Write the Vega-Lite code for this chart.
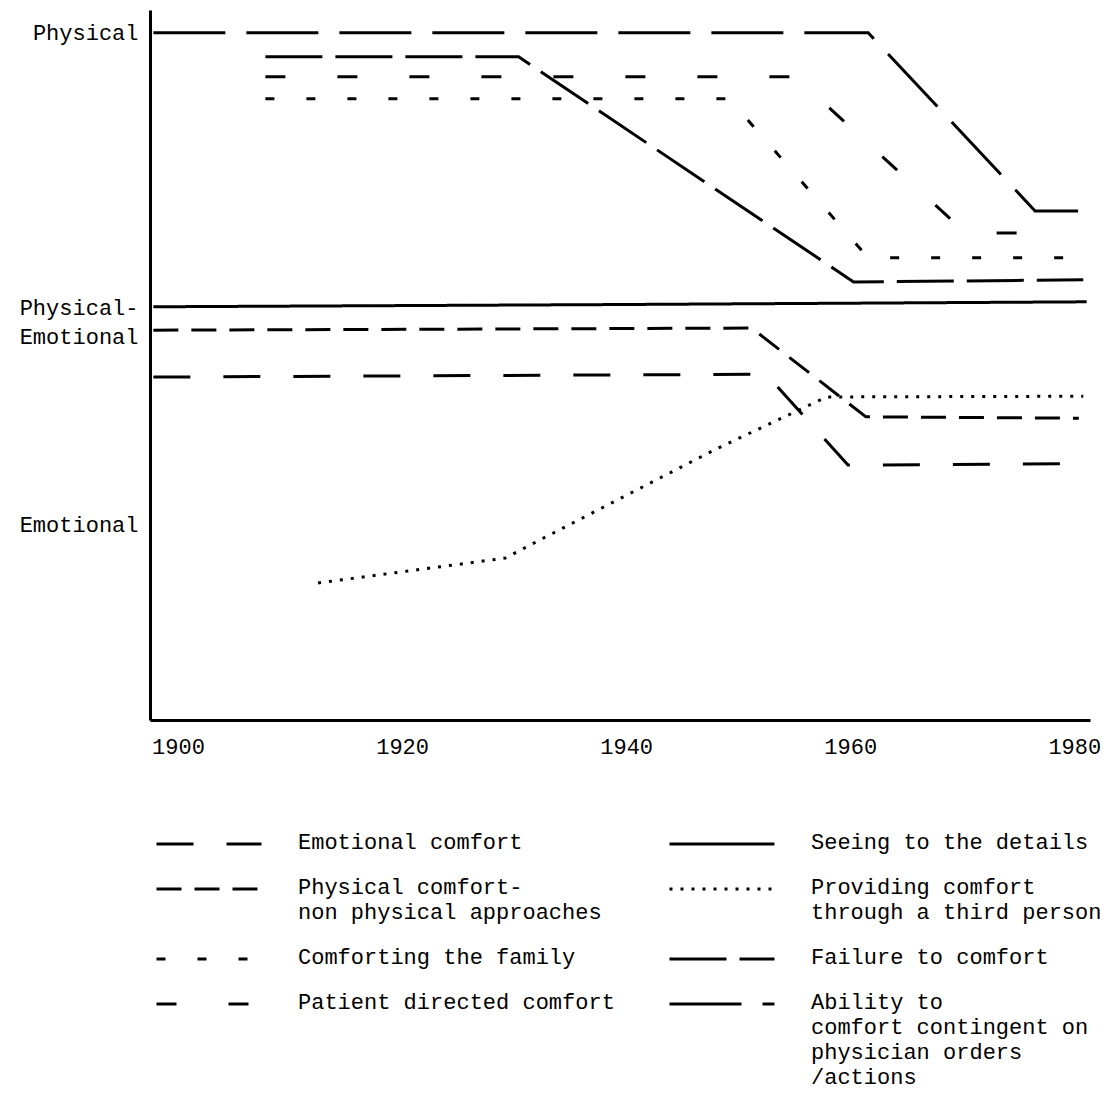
{
  "$schema": "https://vega.github.io/schema/vega-lite/v6.json",
  "width": 940,
  "height": 710,
  "autosize": {"type": "none"},
  "padding": {"left": 150, "top": 10, "right": 13, "bottom": 379},
  "background": "white",
  "config": {
    "view": {"stroke": null},
    "axis": {
      "domainColor": "black",
      "domainWidth": 3,
      "ticks": false,
      "grid": false,
      "labelFont": "Liberation Mono",
      "labelFontSize": 22,
      "labelColor": "black",
      "title": null,
      "labelFlush": false,
      "labelOverlap": false
    },
    "legend": {
      "labelFont": "Liberation Mono",
      "labelFontSize": 22,
      "labelColor": "black"
    }
  },
  "data": {
    "values": [
      {"series": "Ability to comfort contingent on physician orders /actions", "year": 1897.8, "level": 96.8},
      {"series": "Ability to comfort contingent on physician orders /actions", "year": 1961.6, "level": 96.8},
      {"series": "Ability to comfort contingent on physician orders /actions", "year": 1976.5, "level": 71.7},
      {"series": "Ability to comfort contingent on physician orders /actions", "year": 1980.8, "level": 71.7},
      {"series": "Failure to comfort", "year": 1907.8, "level": 93.4},
      {"series": "Failure to comfort", "year": 1930.4, "level": 93.4},
      {"series": "Failure to comfort", "year": 1960.3, "level": 61.7},
      {"series": "Failure to comfort", "year": 1980.8, "level": 62.0},
      {"series": "Patient directed comfort", "year": 1907.8, "level": 90.6},
      {"series": "Patient directed comfort", "year": 1955.1, "level": 90.6},
      {"series": "Patient directed comfort", "year": 1970.3, "level": 68.6},
      {"series": "Patient directed comfort", "year": 1978.6, "level": 68.6},
      {"series": "Comforting the family", "year": 1907.8, "level": 87.5},
      {"series": "Comforting the family", "year": 1949.2, "level": 87.5},
      {"series": "Comforting the family", "year": 1961.6, "level": 65.1},
      {"series": "Comforting the family", "year": 1980.8, "level": 65.1},
      {"series": "Seeing to the details", "year": 1897.8, "level": 58.2},
      {"series": "Seeing to the details", "year": 1937.5, "level": 58.5},
      {"series": "Seeing to the details", "year": 1981.1, "level": 58.9},
      {"series": "Physical comfort-non physical approaches", "year": 1897.8, "level": 54.9},
      {"series": "Physical comfort-non physical approaches", "year": 1951.2, "level": 55.2},
      {"series": "Physical comfort-non physical approaches", "year": 1961.4, "level": 42.7},
      {"series": "Physical comfort-non physical approaches", "year": 1980.4, "level": 42.5},
      {"series": "Emotional comfort", "year": 1897.8, "level": 48.3},
      {"series": "Emotional comfort", "year": 1952.5, "level": 48.7},
      {"series": "Emotional comfort", "year": 1959.8, "level": 35.9},
      {"series": "Emotional comfort", "year": 1980.8, "level": 36.1},
      {"series": "Providing comfort through a third person", "year": 1912.5, "level": 19.3},
      {"series": "Providing comfort through a third person", "year": 1929.2, "level": 22.8},
      {"series": "Providing comfort through a third person", "year": 1932.1, "level": 25.2},
      {"series": "Providing comfort through a third person", "year": 1948.2, "level": 38.3},
      {"series": "Providing comfort through a third person", "year": 1957.9, "level": 45.5},
      {"series": "Providing comfort through a third person", "year": 1980.8, "level": 45.6}
    ]
  },
  "mark": {"type": "line", "stroke": "black", "strokeWidth": 3, "clip": false},
  "encoding": {
    "x": {
      "field": "year",
      "type": "quantitative",
      "scale": {"domain": [1897.5, 1981.4], "nice": false, "zero": false},
      "axis": {"values": [1900, 1920, 1940, 1960, 1980], "format": "d", "labelPadding": 16}
    },
    "y": {
      "field": "level",
      "type": "quantitative",
      "scale": {"domain": [0, 100], "nice": false, "zero": false},
      "axis": {
        "values": [27.6, 58.1, 96.8],
        "labelPadding": 12,
        "labelLineHeight": 29,
        "labelExpr": "datum.value > 90 ? 'Physical' : datum.value > 50 ? ['Physical-', 'Emotional'] : 'Emotional'"
      }
    },
    "strokeDash": {
      "field": "series",
      "type": "nominal",
      "scale": {
        "domain": [
          "Emotional comfort",
          "Physical comfort-non physical approaches",
          "Comforting the family",
          "Patient directed comfort",
          "Seeing to the details",
          "Providing comfort through a third person",
          "Failure to comfort",
          "Ability to comfort contingent on physician orders /actions"
        ],
        "range": [[37, 33], [25, 13], [9, 32], [20, 52], [1, 0], [3, 8], [57, 13], [72, 21]]
      },
      "legend": {
        "title": null,
        "orient": "none",
        "legendX": 5,
        "legendY": 822,
        "columns": 2,
        "symbolType": "stroke",
        "symbolSize": 11025,
        "symbolStrokeWidth": 3,
        "symbolStrokeColor": "black",
        "labelOffset": 35,
        "columnPadding": 48,
        "rowPadding": 23,
        "labelLimit": 1000,
        "labelBaseline": "top",
        "encode": {
          "labels": {"update": {"y": {"value": 0}, "lineHeight": {"value": 25}}},
          "symbols": {"update": {"y": {"value": 12}}}
        },
        "labelExpr": "datum.label == 'Physical comfort-non physical approaches' ? ['Physical comfort-', 'non physical approaches'] : datum.label == 'Providing comfort through a third person' ? ['Providing comfort', 'through a third person'] : datum.label == 'Ability to comfort contingent on physician orders /actions' ? ['Ability to', 'comfort contingent on', 'physician orders', '/actions'] : datum.label"
      }
    }
  }
}
